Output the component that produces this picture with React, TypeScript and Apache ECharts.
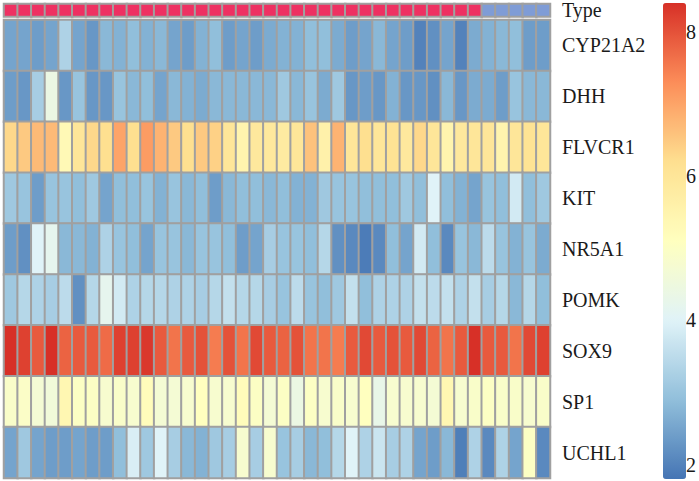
import React, { useEffect, useRef } from "react";
import * as echarts from "echarts";

const genes = ["CYP21A2", "DHH", "FLVCR1", "KIT", "NR5A1", "POMK", "SOX9", "SP1", "UCHL1"];

// 0 = red group, 1 = blue group
const sampleType = [
  0, 0, 0, 0, 0, 0, 0, 0, 0, 0,
  0, 0, 0, 0, 0, 0, 0, 0, 0, 0,
  0, 0, 0, 0, 0, 0, 0, 0, 0, 0,
  0, 0, 0, 0, 0, 1, 1, 1, 1, 1,
];
const typeColors = ["#EE3162", "#7F9CD6"];

const CYP21A2 = [2.5, 2.5, 2.4, 2.5, 3.3, 2.5, 2.3, 2.8, 2.7, 2.9, 2.7, 2.8, 2.5, 2.4, 2.7, 2.9, 2.4, 2.5, 2.4, 2.6,
  2.7, 2.7, 2.9, 2.9, 2.6, 2.4, 2.5, 2.8, 2.5, 2.4, 2.0, 2.2, 2.5, 2.0, 2.6, 2.7, 2.8, 2.9, 2.4, 2.4];
const DHH = [2.4, 2.3, 3.2, 4.4, 2.3, 3.0, 2.3, 2.3, 3.0, 2.8, 2.9, 2.5, 2.8, 2.7, 2.6, 2.8, 2.8, 2.8, 2.8, 2.8,
  3.1, 2.8, 3.0, 2.6, 3.1, 2.3, 2.4, 2.3, 2.7, 2.3, 2.3, 2.2, 2.8, 2.3, 2.6, 2.6, 2.4, 3.0, 2.8, 2.8];
const FLVCR1 = [6.3, 6.5, 6.7, 6.7, 5.3, 6.0, 6.3, 6.2, 7.0, 6.2, 7.1, 6.8, 6.5, 6.2, 6.5, 6.4, 6.0, 5.5, 5.9, 5.9,
  5.8, 6.0, 6.6, 5.6, 6.8, 6.0, 6.2, 6.0, 6.1, 5.9, 6.3, 6.0, 5.5, 5.9, 6.0, 6.0, 5.5, 6.0, 6.1, 6.0];
const KIT = [3.1, 3.0, 2.4, 3.0, 3.0, 2.9, 3.1, 2.5, 2.9, 2.9, 3.0, 2.7, 3.0, 2.8, 2.9, 2.4, 2.8, 2.9, 2.9, 2.8,
  2.9, 2.7, 2.7, 3.1, 3.0, 3.0, 2.9, 2.9, 2.9, 3.1, 2.9, 4.0, 2.9, 2.7, 2.5, 3.0, 2.9, 3.8, 2.9, 3.1];
const NR5A1 = [2.4, 2.2, 4.0, 4.2, 2.8, 2.8, 2.7, 3.3, 3.0, 2.9, 2.5, 3.0, 3.0, 2.8, 3.0, 3.0, 2.9, 2.4, 2.5, 3.2,
  3.0, 3.0, 2.9, 3.4, 2.2, 2.1, 1.9, 2.1, 2.9, 2.5, 3.8, 2.9, 2.1, 3.0, 2.8, 3.5, 3.0, 2.7, 3.0, 2.6];
const POMK = [3.1, 3.4, 3.3, 3.2, 3.5, 2.2, 3.4, 4.2, 3.8, 3.3, 3.4, 3.4, 3.3, 3.3, 3.2, 3.4, 3.6, 3.4, 3.4, 3.2,
  3.0, 3.5, 3.0, 2.9, 3.1, 3.6, 2.9, 3.3, 3.3, 3.3, 3.6, 3.5, 3.6, 3.3, 3.6, 3.2, 3.4, 2.8, 3.4, 2.9];
const SOX9 = [8.4, 8.2, 7.9, 8.4, 7.8, 7.9, 7.9, 7.7, 8.2, 8.2, 8.3, 7.9, 7.6, 7.9, 8.0, 7.5, 8.0, 7.6, 8.1, 7.9,
  7.8, 8.0, 7.6, 7.6, 7.5, 7.9, 8.1, 7.9, 8.0, 7.9, 8.1, 7.8, 7.6, 7.9, 8.4, 7.9, 7.9, 7.6, 8.1, 8.2];
const SP1 = [4.9, 4.95, 4.7, 4.6, 5.4, 5.0, 5.0, 4.8, 4.9, 4.8, 5.2, 4.7, 4.7, 4.8, 5.1, 4.8, 4.8, 5.2, 5.0, 4.7,
  5.0, 4.4, 5.0, 4.8, 4.9, 4.8, 5.1, 4.3, 4.8, 4.8, 4.8, 4.7, 5.4, 4.8, 4.9, 5.0, 4.9, 4.9, 4.8, 4.9];
const UCHL1 = [2.5, 3.1, 2.5, 2.4, 2.4, 2.5, 2.4, 2.4, 2.9, 3.9, 3.1, 4.0, 3.2, 2.8, 2.7, 3.1, 3.2, 4.8, 3.2, 4.8,
  3.0, 3.2, 2.8, 2.9, 3.4, 4.0, 3.3, 3.7, 3.2, 3.3, 2.5, 2.4, 2.8, 1.95, 3.3, 2.1, 3.3, 2.5, 5.0, 2.1];

const geneValues = [CYP21A2, DHH, FLVCR1, KIT, NR5A1, POMK, SOX9, SP1, UCHL1];
const colorTicks = [2, 4, 6, 8];
const scaleMin = 1.8;
const scaleMax = 8.4;
const palette = ["#4575B4", "#91BFDB", "#E0F3F8", "#FFFFBF", "#FEE090", "#FC8D59", "#D73027"];

export default function App() {
  const ref = useRef<HTMLDivElement>(null);
  useEffect(() => {
    document.body.style.margin = "0";
    const chart = echarts.init(ref.current!, null, { renderer: "svg" });
    const samples = sampleType.map((_, i) => "S" + (i + 1));
    const typeData = sampleType.map((t, i) => [i, 0, t]);
    const mainData: number[][] = [];
    geneValues.forEach((row, g) => row.forEach((v, i) => mainData.push([i, g, v])));
    const font = "'Liberation Serif', 'Times New Roman', serif";
    const labelStyle = { fontSize: 20, fontFamily: font, color: "#1a1a1a", padding: [0, 0, 4, 0] };
    chart.setOption({
      animation: false,
      backgroundColor: "#ffffff",
      grid: [
        { left: 4, width: 546, top: 4, height: 12.5 },
        { left: 4, width: 546, top: 20, height: 458 },
        { left: 663, width: 23, top: 3, height: 476 },
      ],
      xAxis: [
        { type: "category", gridIndex: 0, data: samples, show: false },
        { type: "category", gridIndex: 1, data: samples, show: false },
        { type: "value", gridIndex: 2, show: false, min: 0, max: 1 },
      ],
      yAxis: [
        {
          type: "category", gridIndex: 0, data: ["Type"], position: "right",
          axisLine: { show: false }, axisTick: { show: false }, splitLine: { show: false },
          axisLabel: { margin: 12, ...labelStyle },
        },
        {
          type: "category", gridIndex: 1, data: genes, inverse: true, position: "right",
          axisLine: { show: false }, axisTick: { show: false }, splitLine: { show: false },
          axisLabel: { margin: 12, ...labelStyle },
        },
        {
          type: "value", gridIndex: 2, min: scaleMin, max: scaleMax, position: "right",
          axisLine: { show: false }, axisTick: { show: false }, splitLine: { show: false },
          axisLabel: { customValues: colorTicks, margin: 3, ...labelStyle },
        },
      ],
      visualMap: [
        {
          type: "piecewise", show: false, seriesIndex: 0, dimension: 2,
          pieces: typeColors.map((c, i) => ({ value: i, color: c })),
        },
        {
          type: "continuous", show: true, seriesIndex: 1, dimension: 2,
          min: scaleMin, max: scaleMax, calculable: false,
          left: 663, top: 3, itemWidth: 23, itemHeight: 476, padding: 0,
          text: ["", ""], showLabel: false,
          inRange: { color: palette },
        },
      ],
      series: [
        {
          type: "heatmap", xAxisIndex: 0, yAxisIndex: 0, data: typeData,
          itemStyle: { borderColor: "#A0A0A0", borderWidth: 2 },
          emphasis: { disabled: true },
        },
        {
          type: "heatmap", xAxisIndex: 1, yAxisIndex: 1, data: mainData,
          itemStyle: { borderColor: "#A0A0A0", borderWidth: 2 },
          emphasis: { disabled: true },
        },
      ],
    });
    return () => chart.dispose();
  }, []);
  return <div ref={ref} style={{ position: "fixed", left: 0, top: 0, width: 699, height: 481 }} />;
}
